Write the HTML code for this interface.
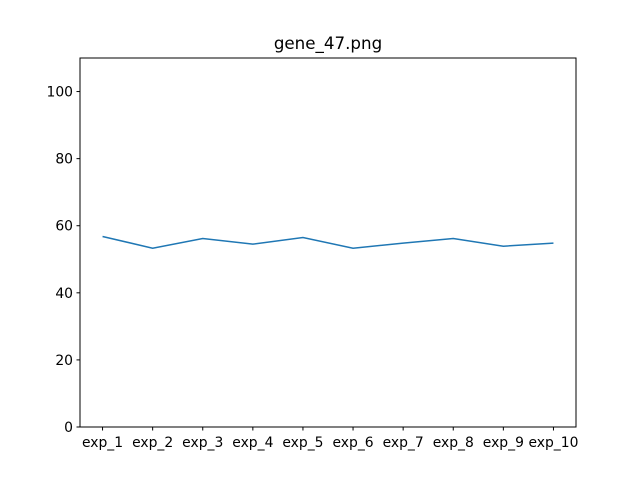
<!DOCTYPE html>
<html><head><meta charset="utf-8"><style>
html,body{margin:0;padding:0;background:#fff;}
svg text{font-family:"DejaVu Sans","Liberation Sans",sans-serif;}
</style></head><body>
<svg id="chart" width="640" height="480" xmlns="http://www.w3.org/2000/svg">
<rect width="640" height="480" fill="#fff"/>
<text x="328" y="49" font-size="16.7" text-anchor="middle">gene_47.png</text>
<g id="yticks"></g><g id="xticks"></g>
<polyline id="line" fill="none" stroke="#1f77b4" stroke-width="1.5"/>
<rect x="80" y="58" width="496" height="369" fill="none" stroke="#000" stroke-width="1"/>
</svg>
<script>
const categories = ["exp_1","exp_2","exp_3","exp_4","exp_5","exp_6","exp_7","exp_8","exp_9","exp_10"];
const values = [56.8,53.3,56.2,54.5,56.5,53.3,54.8,56.2,53.9,54.8];
const yTicks = [0,20,40,60,80,100];
const L=80,R=576,T=58,B=427,yMin=0,yMax=110,xMin=-0.45,xMax=categories.length-1+0.45;
const xs=i=>L+(i-xMin)/(xMax-xMin)*(R-L);
const ys=v=>B-(v-yMin)/(yMax-yMin)*(B-T);
const NS="http://www.w3.org/2000/svg";
const yg=document.getElementById('yticks'), xg=document.getElementById('xticks');
yTicks.forEach(t=>{
  const y=ys(t);
  const l=document.createElementNS(NS,'line');
  l.setAttribute('x1',L-3.5);l.setAttribute('x2',L);l.setAttribute('y1',y);l.setAttribute('y2',y);l.setAttribute('stroke','#000');
  
  
  yg.appendChild(l);
  const tx=document.createElementNS(NS,'text');
  tx.setAttribute('x',L-7);tx.setAttribute('y',y+5);tx.setAttribute('font-size','13.9');tx.setAttribute('text-anchor','end');
  tx.textContent=t;
  
  
  yg.appendChild(tx);
});
categories.forEach((c,i)=>{
  const x=xs(i);
  const l=document.createElementNS(NS,'line');
  l.setAttribute('x1',x);l.setAttribute('x2',x);l.setAttribute('y1',B);l.setAttribute('y2',B+3.5);l.setAttribute('stroke','#000');
  
  
  xg.appendChild(l);
  const tx=document.createElementNS(NS,'text');
  tx.setAttribute('x',x);tx.setAttribute('y',B+20);tx.setAttribute('font-size','13.9');tx.setAttribute('text-anchor','middle');
  tx.textContent=c;
  
  
  xg.appendChild(tx);
});
document.getElementById('line').setAttribute('points',values.map((v,i)=>xs(i)+','+ys(v)).join(' '));
</script>
</body></html>
